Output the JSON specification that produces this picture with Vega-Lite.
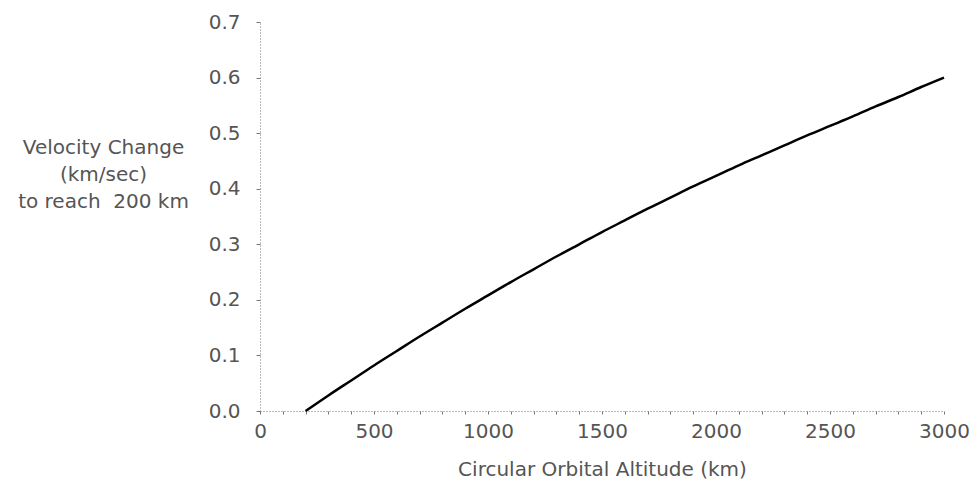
{
  "$schema": "https://vega.github.io/schema/vega-lite/v6.json",
  "autosize": "none",
  "width": 684,
  "height": 389,
  "padding": {"left": 260, "top": 22, "right": 33, "bottom": 78},
  "background": "white",
  "config": {
    "view": {"stroke": null},
    "font": "DejaVu Sans"
  },
  "data": {
    "values": [
      {"altitude": 200, "dv": 0.0},
      {"altitude": 300, "dv": 0.028},
      {"altitude": 400, "dv": 0.055},
      {"altitude": 500, "dv": 0.082},
      {"altitude": 600, "dv": 0.108},
      {"altitude": 700, "dv": 0.134},
      {"altitude": 800, "dv": 0.159},
      {"altitude": 900, "dv": 0.184},
      {"altitude": 1000, "dv": 0.208},
      {"altitude": 1100, "dv": 0.232},
      {"altitude": 1200, "dv": 0.255},
      {"altitude": 1300, "dv": 0.278},
      {"altitude": 1400, "dv": 0.300},
      {"altitude": 1500, "dv": 0.322},
      {"altitude": 1600, "dv": 0.343},
      {"altitude": 1700, "dv": 0.364},
      {"altitude": 1800, "dv": 0.384},
      {"altitude": 1900, "dv": 0.404},
      {"altitude": 2000, "dv": 0.423},
      {"altitude": 2100, "dv": 0.442},
      {"altitude": 2200, "dv": 0.460},
      {"altitude": 2300, "dv": 0.478},
      {"altitude": 2400, "dv": 0.496},
      {"altitude": 2500, "dv": 0.513},
      {"altitude": 2600, "dv": 0.530},
      {"altitude": 2700, "dv": 0.548},
      {"altitude": 2800, "dv": 0.565},
      {"altitude": 2900, "dv": 0.583},
      {"altitude": 3000, "dv": 0.600}
    ]
  },
  "mark": {"type": "line", "color": "black", "strokeWidth": 2.5, "interpolate": "monotone"},
  "encoding": {
    "x": {
      "field": "altitude",
      "type": "quantitative",
      "scale": {"domain": [0, 3000], "nice": false, "zero": false},
      "axis": {
        "title": "Circular Orbital Altitude (km)",
        "values": [0,100,200,300,400,500,600,700,800,900,1000,1100,1200,1300,1400,1500,1600,1700,1800,1900,2000,2100,2200,2300,2400,2500,2600,2700,2800,2900,3000],
        "labelExpr": "datum.value % 500 === 0 ? datum.value : ''",
        "labelOverlap": false,
        "labelFlush": false,
        "grid": false,
        "domainColor": "#777",
        "domainDash": [1, 2],
        "domainWidth": 1,
        "tickColor": "#777",
        "tickSize": 3,
        "tickWidth": 1,
        "labelFont": "DejaVu Sans",
        "labelFontSize": 20,
        "labelColor": "#555",
        "labelPadding": 7,
        "titleFont": "DejaVu Sans",
        "titleFontSize": 20,
        "titleFontWeight": "normal",
        "titleColor": "#555",
        "titlePadding": 18
      }
    },
    "y": {
      "field": "dv",
      "type": "quantitative",
      "scale": {"domain": [0, 0.7], "nice": false},
      "axis": {
        "title": ["Velocity Change", "(km/sec)", "to reach\u00a0 200 km"],
        "values": [0, 0.1, 0.2, 0.3, 0.4, 0.5, 0.6, 0.7],
        "format": ".1f",
        "grid": false,
        "domainColor": "#777",
        "domainDash": [1, 2],
        "domainWidth": 1,
        "tickColor": "#777",
        "tickSize": 4,
        "tickWidth": 1,
        "labelFont": "DejaVu Sans",
        "labelFontSize": 20,
        "labelColor": "#555",
        "labelPadding": 16,
        "titleFont": "DejaVu Sans",
        "titleFontSize": 20,
        "titleFontWeight": "normal",
        "titleColor": "#555",
        "titleAngle": 0,
        "titleAlign": "center",
        "titleBaseline": "alphabetic",
        "titleX": -157,
        "titleY": 131,
        "titleLineHeight": 27
      }
    }
  }
}
